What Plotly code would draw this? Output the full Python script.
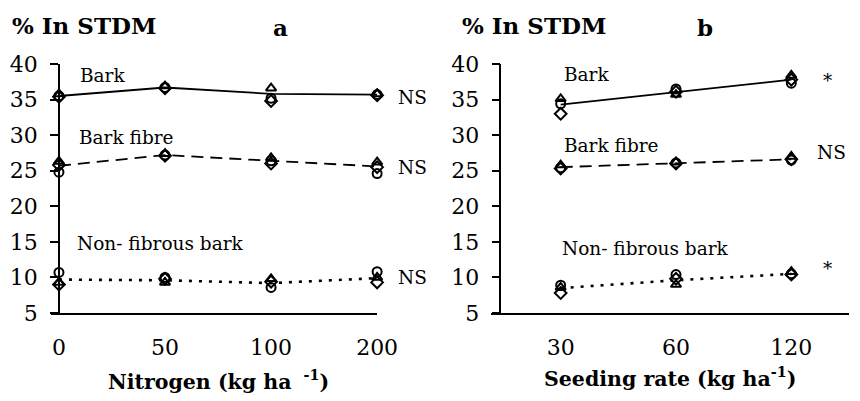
import plotly.graph_objects as go

# ---------------- data ----------------
nitrogen = ["0", "50", "100", "200"]
seeding = ["30", "60", "120"]

a_bark_mean = [35.5, 36.7, 35.8, 35.7]
a_bark_circle = [35.5, 36.7, 35.2, 35.7]
a_bark_tri = [35.8, 36.9, 36.6, 35.8]
a_bark_dia = [35.4, 36.6, 34.8, 35.6]

a_fibre_mean = [25.7, 27.2, 26.4, 25.6]
a_fibre_circle = [24.8, 27.2, 26.4, 24.6]
a_fibre_tri = [26.3, 27.4, 26.8, 26.2]
a_fibre_dia = [25.8, 27.1, 26.0, 25.5]

a_non_mean = [9.7, 9.6, 9.2, 9.9]
a_non_circle = [10.7, 10.0, 8.6, 10.8]
a_non_tri = [9.3, 9.3, 9.8, 10.0]
a_non_dia = [9.0, 9.8, 9.4, 9.3]

b_bark_mean = [34.3, 36.0, 37.8]
b_bark_circle = [34.4, 36.5, 37.3]
b_bark_tri = [35.1, 35.7, 38.4]
b_bark_dia = [33.0, 36.1, 37.8]

b_fibre_mean = [25.5, 26.1, 26.6]
b_fibre_circle = [25.4, 26.1, 26.5]
b_fibre_tri = [25.8, 26.2, 27.0]
b_fibre_dia = [25.3, 26.0, 26.6]

b_non_mean = [8.5, 9.6, 10.5]
b_non_circle = [8.9, 10.4, 10.5]
b_non_tri = [8.6, 9.0, 10.8]
b_non_dia = [7.8, 9.8, 10.4]

y_ticks = [5, 10, 15, 20, 25, 30, 35, 40]

# ---------------- layout helpers ----------------
# page body has an 8px margin; horizontal pixels appear ~2% narrower in the capture
OFF = 8
SX = 0.98
W = int(round(860 / SX)) - 2 * OFF
H = 401 - 2 * OFF
ML = int(round(50 / SX)) - OFF
MR = 0
MT = 64 - OFF
MB = H - (313 - OFF)
PW = W - ML - MR
PH = H - MT - MB


def px(x):
    return (x / SX - OFF - ML) / PW


def py(y):
    return (H - MB - (y - OFF)) / PH


FONT = "DejaVu Serif"
BLACK = "black"

fig = go.Figure()

line_styles = {
    "bark": dict(color=BLACK, width=1.8, dash="solid"),
    "fibre": dict(color=BLACK, width=1.8, dash="12px,7px"),
    "non": dict(color=BLACK, width=2.6, dash="3px,7px"),
}


def add_group(x, mean, circ, tri, dia, style, xa, ya):
    fig.add_trace(go.Scatter(x=x, y=mean, mode="lines", line=line_styles[style],
                             xaxis=xa, yaxis=ya, showlegend=False, cliponaxis=False))
    for vals, sym in [(circ, "circle-open"), (tri, "triangle-up-open"), (dia, "diamond-open")]:
        fig.add_trace(go.Scatter(x=x, y=vals, mode="markers",
                                 marker=dict(symbol=sym, size=9, color=BLACK,
                                             line=dict(color=BLACK, width=2)),
                                 xaxis=xa, yaxis=ya, showlegend=False, cliponaxis=False))


add_group(nitrogen, a_bark_mean, a_bark_circle, a_bark_tri, a_bark_dia, "bark", "x", "y")
add_group(nitrogen, a_fibre_mean, a_fibre_circle, a_fibre_tri, a_fibre_dia, "fibre", "x", "y")
add_group(nitrogen, a_non_mean, a_non_circle, a_non_tri, a_non_dia, "non", "x", "y")

add_group(seeding, b_bark_mean, b_bark_circle, b_bark_tri, b_bark_dia, "bark", "x2", "y2")
add_group(seeding, b_fibre_mean, b_fibre_circle, b_fibre_tri, b_fibre_dia, "fibre", "x2", "y2")
add_group(seeding, b_non_mean, b_non_circle, b_non_tri, b_non_dia, "non", "x2", "y2")

tickfont = dict(family=FONT, size=22, color=BLACK)

xcommon = dict(type="category", showline=True, linecolor=BLACK, linewidth=1.5,
               ticks="", showgrid=False, zeroline=False, tickfont=tickfont,
               ticklabelstandoff=14)
ycommon = dict(range=[5, 40], tickvals=y_ticks, showline=True, linecolor=BLACK,
               linewidth=1.5, ticks="outside", ticklen=8, tickwidth=1.5,
               tickcolor=BLACK, showgrid=False, zeroline=False, tickfont=tickfont,
               ticklabelstandoff=8)
yinner = dict(range=[5, 40], tickvals=y_ticks, showline=False, ticks="inside",
              ticklen=8, tickwidth=1.5, tickcolor=BLACK, showticklabels=False,
              showgrid=False, zeroline=False)

ya_pos = px(58)
yb_pos = px(502)

fig.update_layout(
    width=W, height=H,
    margin=dict(l=ML, r=MR, t=MT, b=MB),
    paper_bgcolor="white", plot_bgcolor="white",
    font=dict(family=FONT, color=BLACK),
    xaxis=dict(domain=[0, px(378)], range=[-0.075, 3], anchor="y", **xcommon),
    xaxis2=dict(domain=[px(493), 1], range=[-0.6, 2.5], anchor="y2", **xcommon),
    yaxis=dict(anchor="free", position=ya_pos, **ycommon),
    yaxis2=dict(anchor="free", position=yb_pos, **ycommon),
    yaxis3=dict(anchor="free", position=ya_pos, overlaying="y", **yinner),
    yaxis4=dict(anchor="free", position=yb_pos, overlaying="y2", **yinner),
)

ann_font = dict(family=FONT, size=18.5, color=BLACK)
title_font = dict(family=FONT, size=23, color=BLACK)
xtitle_font = dict(family=FONT, size=20.5, color=BLACK)


def label(text, x, y, font=ann_font, xanchor="left"):
    fig.add_annotation(text=text, x=px(x), y=py(y), xref="paper", yref="paper",
                       xanchor=xanchor, yanchor="middle", showarrow=False, font=font)


# panel a
label("<b>% In STDM</b>", 9, 25, title_font)
label("<b>a</b>", 281, 28, title_font, "center")
label("Bark", 77, 75)
label("Bark fibre", 76, 137)
label("Non- fibrous bark", 74, 243)
label("NS", 397, 97)
label("NS", 397, 167)
label("NS", 397, 277)
label("<b>Nitrogen (kg ha <sup> -1</sup>)</b>", 218, 380, xtitle_font, "center")

# panel b
label("<b>% In STDM</b>", 461, 25, title_font)
label("<b>b</b>", 708, 28, title_font, "center")
label("Bark", 564, 74)
label("Bark fibre", 564, 145)
label("Non- fibrous bark", 562, 248)
label("*", 824, 80)
label("NS", 818, 152)
label("*", 824, 268)
label("<b>Seeding rate (kg ha<sup>-1</sup>)</b>", 673, 377, xtitle_font, "center")

fig.write_html("out.html")
